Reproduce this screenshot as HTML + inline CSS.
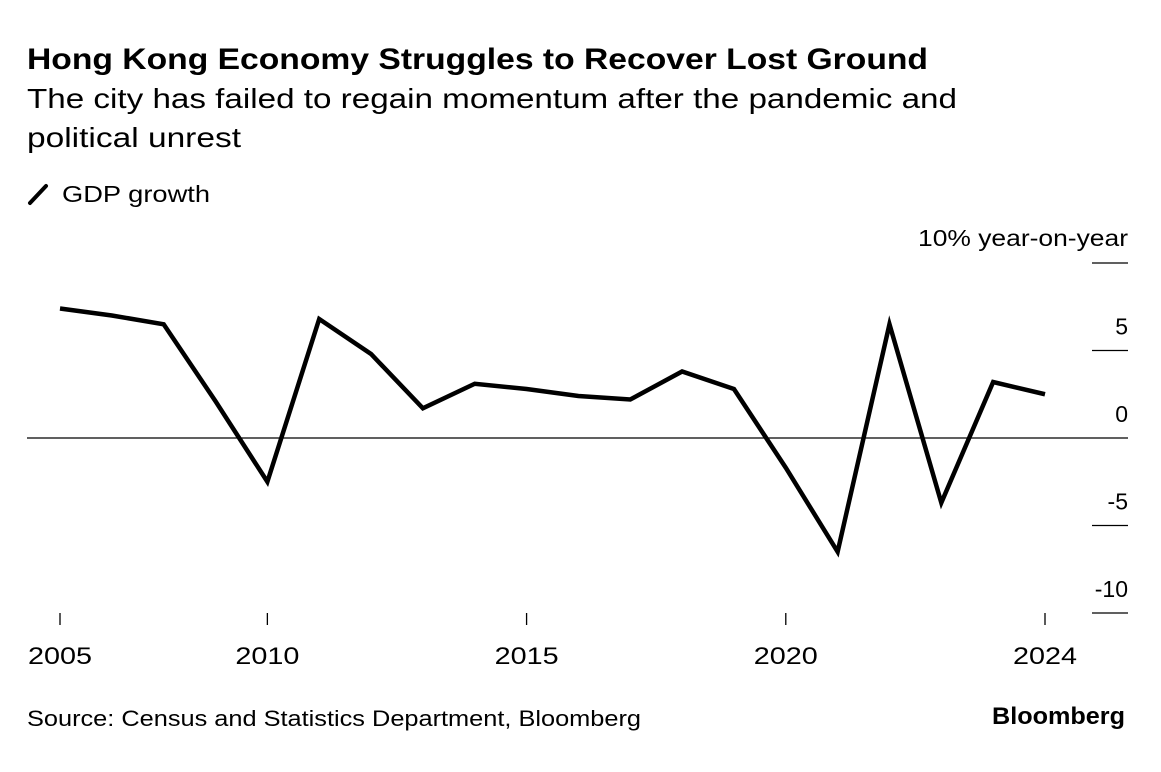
<!DOCTYPE html>
<html><head><meta charset="utf-8"><style>
body{margin:0;background:#fff;font-family:"Liberation Sans",sans-serif;color:#000}
svg{display:block}
</style></head><body>
<svg id="c" width="1161" height="772" xmlns="http://www.w3.org/2000/svg">
<text x="27" y="69" font-size="30" font-weight="bold" textLength="901" lengthAdjust="spacingAndGlyphs">Hong Kong Economy Struggles to Recover Lost Ground</text>
<text x="27" y="108" font-size="28" textLength="930" lengthAdjust="spacingAndGlyphs">The city has failed to regain momentum after the pandemic and</text>
<text x="27" y="147" font-size="28" textLength="214" lengthAdjust="spacingAndGlyphs">political unrest</text>
<line x1="30" y1="203" x2="46" y2="186" stroke="#000" stroke-width="4" stroke-linecap="round"/>
<text x="62" y="202" font-size="23" textLength="148" lengthAdjust="spacingAndGlyphs">GDP growth</text>
<text x="918" y="246" font-size="23" textLength="210" lengthAdjust="spacingAndGlyphs">10% year-on-year</text>
<text x="27" y="726" font-size="22" textLength="614" lengthAdjust="spacingAndGlyphs">Source: Census and Statistics Department, Bloomberg</text>
<text x="992" y="724" font-size="24" font-weight="bold" textLength="133" lengthAdjust="spacingAndGlyphs">Bloomberg</text>
<g id="g"></g>
</svg>
<script>
const years=[2005,2006,2007,2008,2009,2010,2011,2012,2013,2014,2015,2016,2017,2018,2019,2020,2021,2022,2023,2024];
const gdp=[7.4,7.0,6.5,2.1,-2.5,6.8,4.8,1.7,3.1,2.8,2.4,2.2,3.8,2.8,-1.7,-6.5,6.5,-3.7,3.2,2.5];
const xTickYears=[2005,2009,2014,2019,2024];
const xTickLabels=["2005","2010","2015","2020","2024"];
const yTicks=[5,0,-5,-10];
const yTickLabels=["5","0","-5","-10"];
const x=v=>60+(v-2005)*(1045-60)/19;
const y=v=>438-v*17.5;
const NS="http://www.w3.org/2000/svg",g=document.getElementById('g');
function mk(t,a){const e=document.createElementNS(NS,t);for(const k in a)e.setAttribute(k,a[k]);g.appendChild(e);return e;}
let e=mk('line',{x1:1092,x2:1128,y1:y(10),y2:y(10),stroke:'#000','stroke-width':1.3});


yTicks.forEach((v,i)=>{
 if(v!==0){const l=mk('line',{x1:1092,x2:1128,y1:y(v),y2:y(v),stroke:'#000','stroke-width':1.3});
 
 }
 const t=mk('text',{x:1128,y:y(v)-16,'font-size':23,'text-anchor':'end'});t.textContent=yTickLabels[i];
 
 
});
const z=mk('line',{x1:27,x2:1128,y1:y(0),y2:y(0),stroke:'#000','stroke-width':1.3});


xTickYears.forEach((v,i)=>{
 const l=mk('line',{x1:x(v),x2:x(v),y1:613,y2:625,stroke:'#000','stroke-width':1.3});
 
 
 const t=mk('text',{x:x(v)-32,y:664,'font-size':24,textLength:64,lengthAdjust:'spacingAndGlyphs'});t.textContent=xTickLabels[i];
 
 
});
const p=mk('polyline',{points:years.map((yr,i)=>x(yr)+','+y(gdp[i])).join(' '),fill:'none',stroke:'#000','stroke-width':4.5,'stroke-linejoin':'miter','stroke-linecap':'butt'});


</script>
</body></html>
